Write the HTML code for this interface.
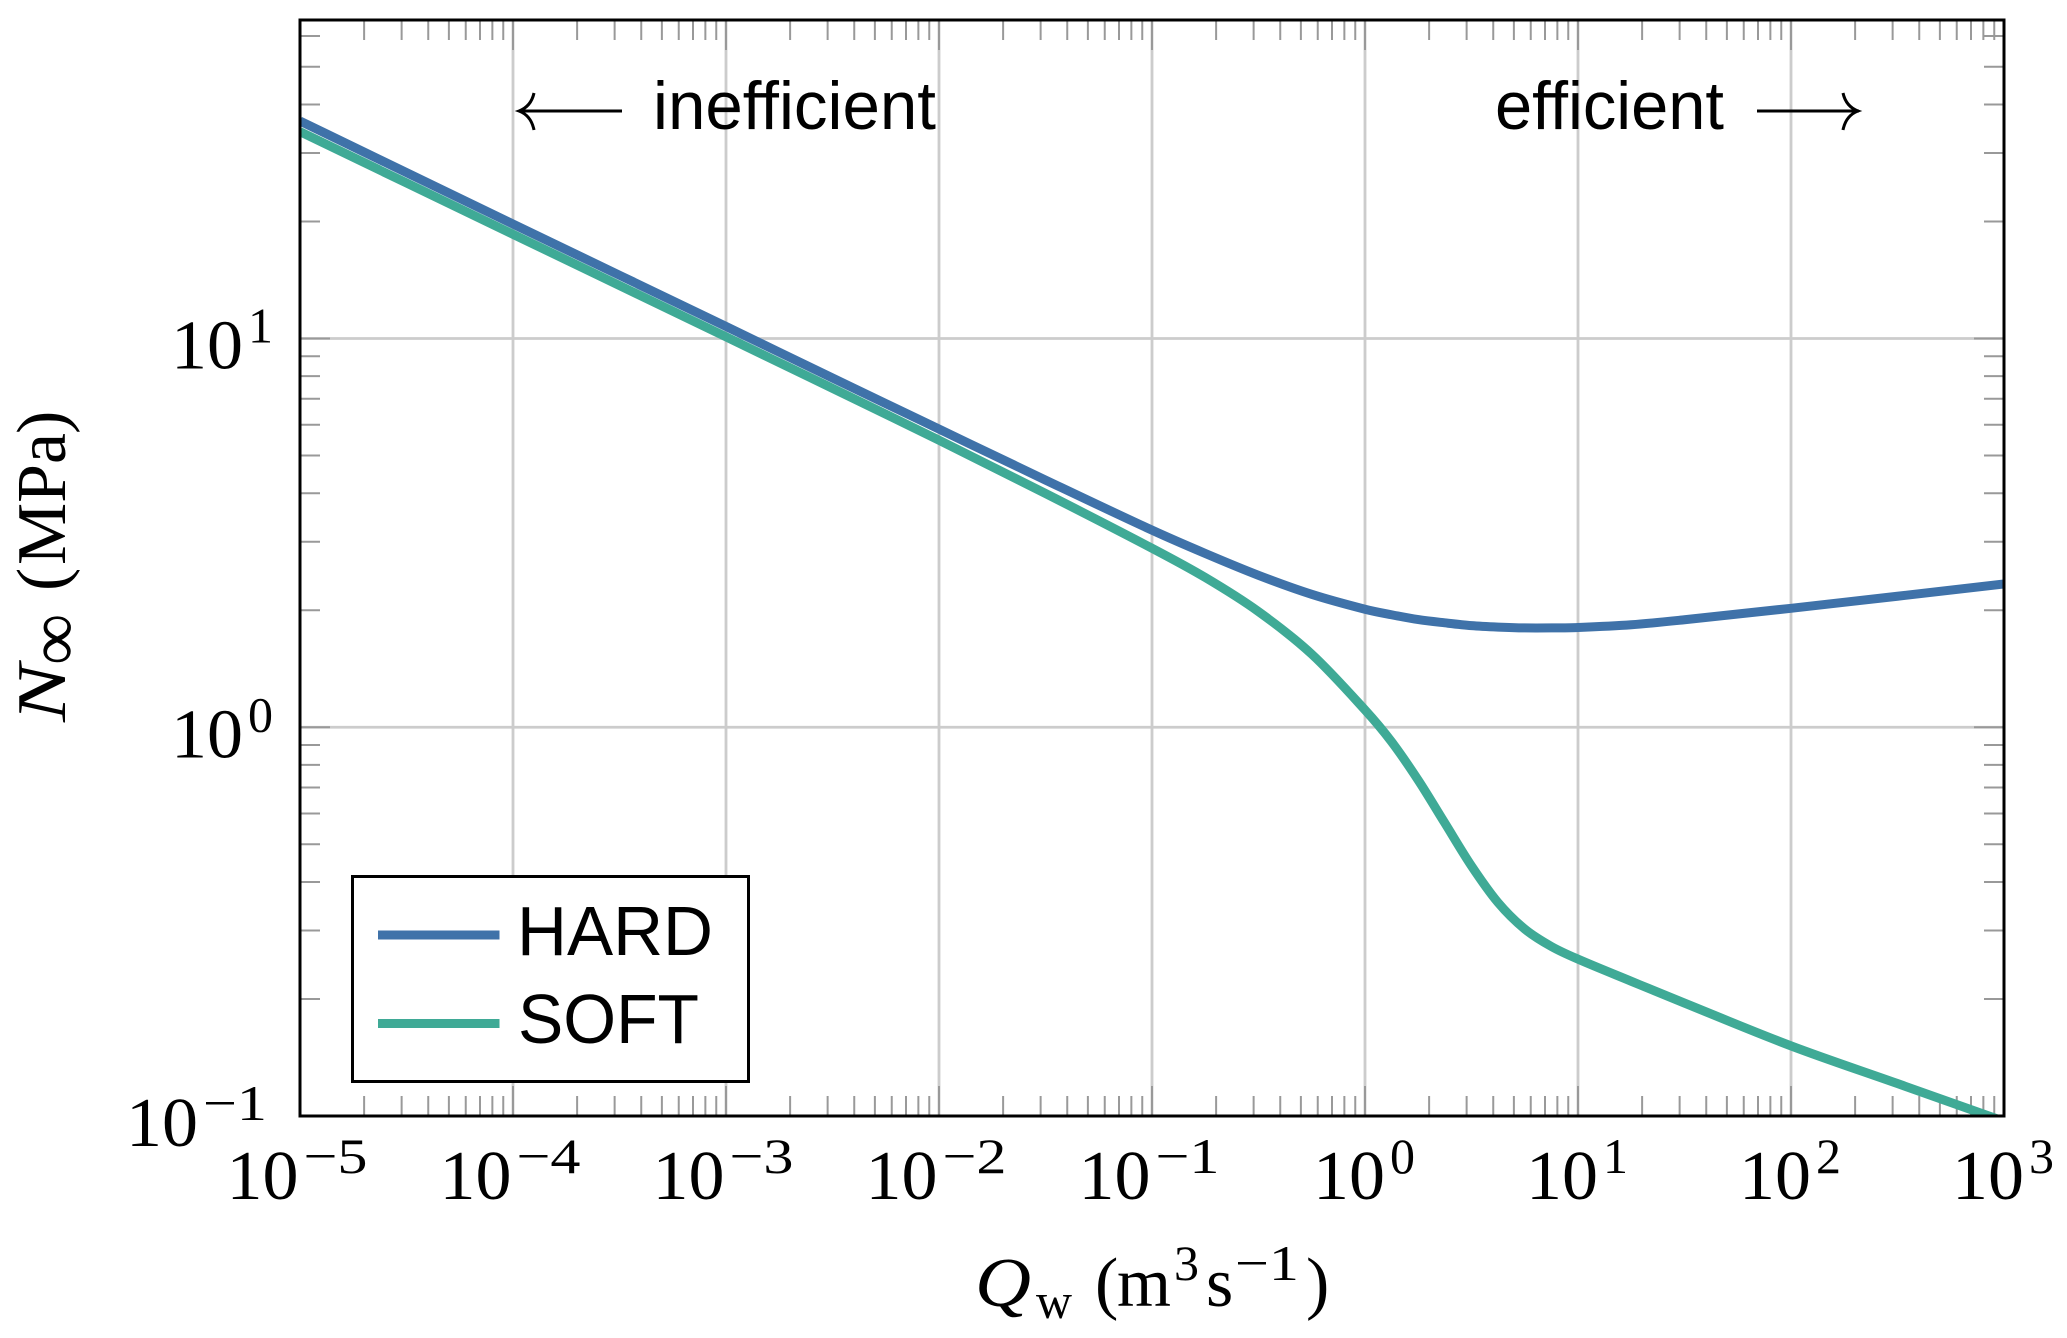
<!DOCTYPE html>
<html lang="en">
<head>
<meta charset="utf-8">
<title>Effective pressure vs discharge</title>
<style>
html,body{margin:0;padding:0;background:#fff;}
svg{display:block;}
.serif{font-family:"Liberation Serif",serif;fill:#000;}
.sans{font-family:"Liberation Sans",sans-serif;fill:#000;}
</style>
</head>
<body>
<svg id="chart" xmlns="http://www.w3.org/2000/svg" width="2067" height="1338" viewBox="0 0 2067 1338">
  <defs><clipPath id="plot-clip"><rect x="300" y="20" width="1704" height="1096"/></clipPath></defs>
  <rect x="300" y="20" width="1704" height="1096" fill="#fff"/>
  <g id="grid"></g>
  <g id="ticks"></g>
  <g id="series" clip-path="url(#plot-clip)"></g>

  <g>
    <path d="M622 111H520M534 93C532 102 527 108 519 111C527 114 532 120 534 130" fill="none" stroke="#000" stroke-width="3"/>
    <text class="sans" x="653" y="129" font-size="68" textLength="283" lengthAdjust="spacingAndGlyphs">inefficient</text>
  </g>
  <g>
    <text class="sans" x="1495" y="129" font-size="68" textLength="229" lengthAdjust="spacingAndGlyphs">efficient</text>
    <path d="M1757 111H1859M1843 93C1845 102 1850 108 1858 111C1850 114 1845 120 1843 130" fill="none" stroke="#000" stroke-width="3"/>
  </g>

  <g>
    <rect x="352.5" y="876.5" width="396" height="205" fill="#fff" stroke="#000" stroke-width="3"/>
    <line x1="378" y1="935" x2="499.5" y2="935" stroke="#3f72a9" stroke-width="9"/>
    <text class="sans" x="517" y="955" font-size="70" textLength="196" lengthAdjust="spacingAndGlyphs">HARD</text>
    <line x1="378" y1="1023.5" x2="499.5" y2="1023.5" stroke="#3faa96" stroke-width="9"/>
    <text class="sans" x="518" y="1043" font-size="70" textLength="181" lengthAdjust="spacingAndGlyphs">SOFT</text>
  </g>

  <rect x="300" y="20" width="1704" height="1096" fill="none" stroke="#000" stroke-width="3"/>

  <g id="tick-labels"></g>

  <text class="serif" font-size="70"><tspan x="975" y="1306" font-style="italic" textLength="56" lengthAdjust="spacingAndGlyphs">Q</tspan><tspan x="1036" y="1318" font-size="50" textLength="36" lengthAdjust="spacingAndGlyphs">w</tspan><tspan x="1095" y="1306">(</tspan><tspan x="1117" y="1306" textLength="54" lengthAdjust="spacingAndGlyphs">m</tspan><tspan x="1174" y="1280" font-size="50">3</tspan><tspan x="1206" y="1306">s</tspan><tspan x="1235" y="1280" font-size="50" textLength="64" lengthAdjust="spacingAndGlyphs">−1</tspan><tspan x="1306" y="1306">)</tspan></text>

  <g transform="translate(65,722) rotate(-90)">
    <text class="serif" font-size="70"><tspan x="0" y="0" font-style="italic" textLength="58" lengthAdjust="spacingAndGlyphs">N</tspan><tspan x="57" y="13" font-size="72">∞</tspan><tspan x="131" y="0">(</tspan><tspan x="157" y="0" textLength="132" lengthAdjust="spacingAndGlyphs">MPa</tspan><tspan x="288" y="0">)</tspan></text>
  </g>
</svg>
<script>
// Discharge Q_w (m^3/s) at which curves were read
const qValues = [1e-5,1e-4,1e-3,3.16e-3,1e-2,3.16e-2,0.1,0.178,0.316,0.562,1,1.33,1.78,2.37,3.16,4.22,5.62,7.5,10,17.8,31.6,100,316,1000];
// N_inf (MPa) for each series
const hardValues = [36.26,19.70,10.74,7.916,5.848,4.325,3.214,2.799,2.460,2.198,2.012,1.947,1.892,1.856,1.826,1.810,1.801,1.801,1.806,1.835,1.890,2.023,2.173,2.336];
const softValues = [34.04,18.54,10.10,7.447,5.476,3.994,2.887,2.427,1.984,1.542,1.108,0.919,0.730,0.567,0.440,0.3536,0.3027,0.2729,0.2532,0.2221,0.1952,0.1515,0.1212,0.0969];
// Axis tick exponents and labels
const xTickExponents = [-5,-4,-3,-2,-1,0,1,2,3];
const xTickLabels = ["−5","−4","−3","−2","−1","0","1","2","3"];
const yTickExponents = [-1,0,1];
const yTickLabels = ["−1","0","1"];
const minorMultipliers = [2,3,4,5,6,7,8,9];

const SVGNS = "http://www.w3.org/2000/svg";
const L = 300, R = 2004, T = 20, B = 1116;
const X_DECADE = (R - L) / 8, Y_DECADE = 388.75;
function xScale(q){ return L + X_DECADE * (Math.log10(q) + 5); }
function yScale(n){ return B - Y_DECADE * (Math.log10(n) + 1); }
function mk(tag, attrs, parent){
  const el = document.createElementNS(SVGNS, tag);
  for (const k in attrs) el.setAttribute(k, attrs[k]);
  parent.appendChild(el);
  return el;
}

const gridG = document.getElementById("grid");
const tickG = document.getElementById("ticks");
const seriesG = document.getElementById("series");
const labelG = document.getElementById("tick-labels");
const GRID = {stroke:"#cccccc","stroke-width":2.8};
const TICK = {stroke:"#999999","stroke-width":2};

// Grid
xTickExponents.slice(1,-1).forEach(function(e){
  const x = xScale(Math.pow(10,e));
  const el = mk("line", Object.assign({x1:x,x2:x,y1:T,y2:B},GRID), gridG);
  
  
});
yTickExponents.slice(1).forEach(function(e){
  const y = yScale(Math.pow(10,e));
  const el = mk("line", Object.assign({x1:L,x2:R,y1:y,y2:y},GRID), gridG);
  
  
});

// X ticks, bottom and top
function xTick(q, len){
  const x = xScale(q);
  const a = mk("line", Object.assign({x1:x,x2:x,y1:B,y2:B-len},TICK), tickG);
  
  
  const b = mk("line", Object.assign({x1:x,x2:x,y1:T,y2:T+len},TICK), tickG);
  
  
}
xTickExponents.forEach(function(e, i){
  xTick(Math.pow(10,e), 30);
  if (i < xTickExponents.length-1) minorMultipliers.forEach(function(m){ xTick(m*Math.pow(10,e), 20); });
});

// Y ticks, left and right
function yTick(n, len){
  const y = yScale(n);
  const a = mk("line", Object.assign({x1:L,x2:L+len,y1:y,y2:y},TICK), tickG);
  
  
  const b = mk("line", Object.assign({x1:R,x2:R-len,y1:y,y2:y},TICK), tickG);
  
  
}
yTickExponents.forEach(function(e){
  yTick(Math.pow(10,e), 30);
  minorMultipliers.forEach(function(m){
    const v = m*Math.pow(10,e);
    if (yScale(v) > T) yTick(v, 20);
  });
});

// Tick labels: "10" plus a superscript exponent
function supWidth(s){ return s.length > 1 ? 64 : 25; }
function tickLabel(sup, startX, baseY, name){
  const t = mk("text", {"class":"serif","font-size":70}, labelG);
  
  
  const a = mk("tspan", {x:startX-6,y:baseY,textLength:72,lengthAdjust:"spacingAndGlyphs"}, t);
  a.textContent = "10";
  const b = mk("tspan", {x:startX+71,y:baseY-26,"font-size":50,textLength:supWidth(sup),lengthAdjust:"spacingAndGlyphs"}, t);
  b.textContent = sup;
}
xTickExponents.forEach(function(e,i){
  const s = xTickLabels[i];
  const shift = s.length > 1 ? 0 : 2;
  const total = 71 + supWidth(s);
  tickLabel(s, xScale(Math.pow(10,e)) - total/2 + shift, 1199, 'x-tick-label');
});
yTickExponents.forEach(function(e,i){
  const s = yTickLabels[i];
  const total = 71 + (s.length > 1 ? 64 : 20);
  tickLabel(s, 267 - total + (s.length > 1 ? 0 : 1), yScale(Math.pow(10,e)) + 30, 'y-tick-label');
});

// Smooth curve through the read points (Catmull-Rom to Bezier)
function curve(values){
  const p = qValues.map(function(q,i){ return [xScale(q), yScale(values[i])]; });
  let d = "M" + p[0][0].toFixed(2) + " " + p[0][1].toFixed(2);
  for (let i = 0; i < p.length-1; i++){
    const p0 = p[Math.max(i-1,0)], p1 = p[i], p2 = p[i+1], p3 = p[Math.min(i+2,p.length-1)];
    const w = (p2[0]-p1[0]);
    const m1 = (p2[1]-p0[1])/(p2[0]-p0[0]), m2 = (p3[1]-p1[1])/(p3[0]-p1[0]);
    d += "C" + (p1[0]+w/3).toFixed(2) + " " + (p1[1]+m1*w/3).toFixed(2) + " " +
         (p2[0]-w/3).toFixed(2) + " " + (p2[1]-m2*w/3).toFixed(2) + " " +
         p2[0].toFixed(2) + " " + p2[1].toFixed(2);
  }
  return d;
}
const hardLine = mk("path", {d:curve(hardValues),fill:"none",stroke:"#3f72a9","stroke-width":9,"stroke-linejoin":"round"}, seriesG);


const softLine = mk("path", {d:curve(softValues),fill:"none",stroke:"#3faa96","stroke-width":9,"stroke-linejoin":"round"}, seriesG);


</script>
</body>
</html>
